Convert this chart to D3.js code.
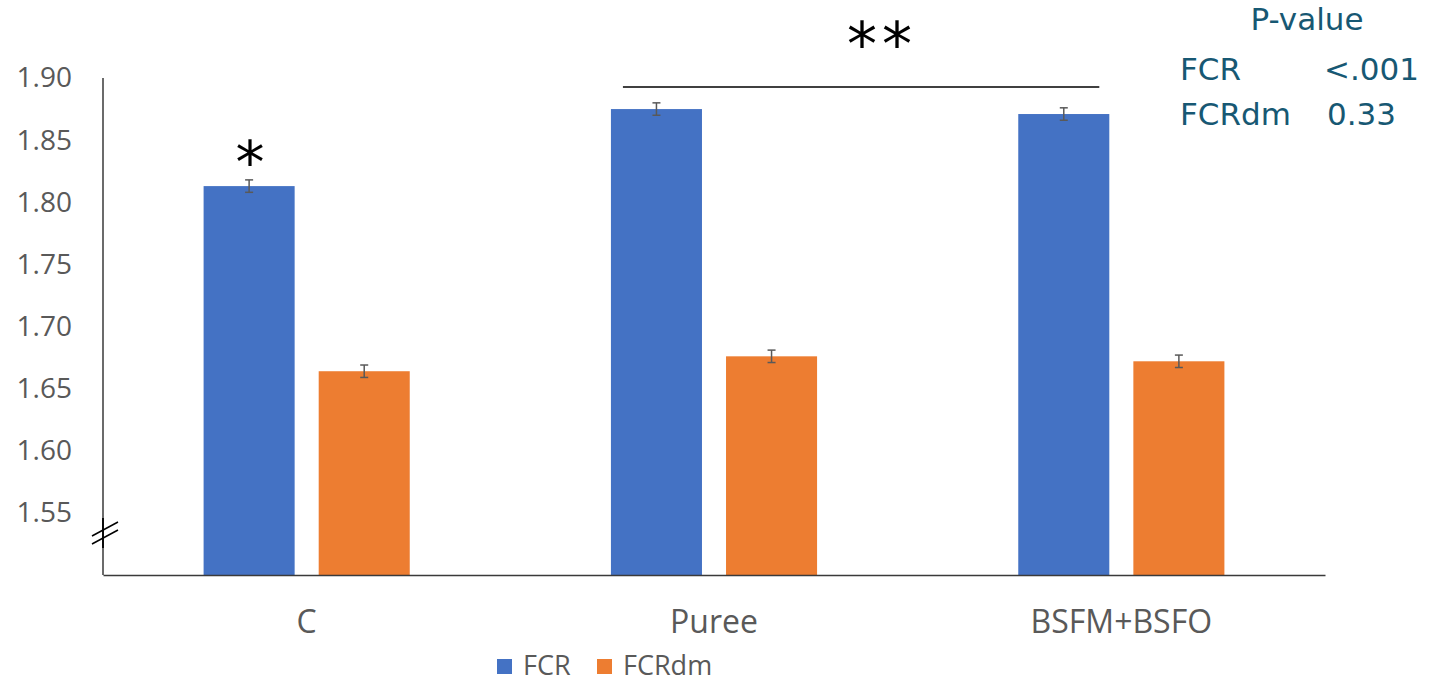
<!DOCTYPE html>
<html>
<head>
<meta charset="utf-8">
<script src="https://cdn.jsdelivr.net/npm/d3@7"></script>
<style>
  html, body { margin: 0; padding: 0; background: #fff; }
  svg { display: block; }
</style>
</head>
<body>
<script>
// Feed conversion ratios per diet, with standard errors
const categories = ["C", "Puree", "BSFM+BSFO"];
const seriesNames = ["FCR", "FCRdm"];
const fcr = [1.813, 1.875, 1.871];
const fcrdm = [1.664, 1.676, 1.672];
const fcrErr = [0.005, 0.005, 0.005];
const fcrdmErr = [0.005, 0.005, 0.005];
const yTicks = [1.55, 1.60, 1.65, 1.70, 1.75, 1.80, 1.85, 1.90];
const pRows = [["FCR", "<.001"], ["FCRdm", "0.33"]];

const W = 1429, H = 684;
const margin = { left: 103, right: 104, top: 78, bottom: 109 };
const colors = { FCR: "#4472C4", FCRdm: "#ED7D31" };
const axisFont = "'Open Sans', 'Noto Sans', sans-serif";

const svg = d3.select("body").append("svg").attr("width", W).attr("height", H);

const x0 = d3.scaleBand().domain(categories)
  .range([margin.left, W - margin.right]).paddingInner(0).paddingOuter(0);
const x1 = d3.scaleBand().domain(seriesNames)
  .range([0, x0.bandwidth()]).paddingInner(0.209).paddingOuter(0.874);
const y = d3.scaleLinear().domain([1.50, 1.90]).range([H - margin.bottom, margin.top]);

const rows = categories.map((c, i) => ({
  cat: c,
  vals: [
    { key: "FCR", v: fcr[i], e: fcrErr[i] },
    { key: "FCRdm", v: fcrdm[i], e: fcrdmErr[i] }
  ]
}));

// Bars
const g = svg.append("g");
const groups = g.selectAll("g.cat").data(rows).join("g")
  .attr("transform", d => `translate(${x0(d.cat)},0)`);
groups.selectAll("rect").data(d => d.vals).join("rect")
  .attr("x", d => x1(d.key))
  .attr("width", x1.bandwidth())
  .attr("y", d => y(d.v))
  .attr("height", d => y(1.50) - y(d.v))
  .attr("fill", d => colors[d.key]);

// Error bars
const eb = groups.selectAll("g.err").data(d => d.vals).join("g")
  .attr("stroke", "#595959").attr("stroke-width", 1.5);
const mid = d => x1(d.key) + x1.bandwidth() / 2;
eb.append("line")
  .attr("x1", mid).attr("x2", mid)
  .attr("y1", d => y(d.v + d.e)).attr("y2", d => y(d.v - d.e));
eb.append("line")
  .attr("x1", d => mid(d) - 4).attr("x2", d => mid(d) + 4)
  .attr("y1", d => y(d.v + d.e)).attr("y2", d => y(d.v + d.e));
eb.append("line")
  .attr("x1", d => mid(d) - 4).attr("x2", d => mid(d) + 4)
  .attr("y1", d => y(d.v - d.e)).attr("y2", d => y(d.v - d.e));

// Y axis
const yAxis = svg.append("g")
  .attr("transform", `translate(${margin.left},0)`)
  .call(d3.axisLeft(y).tickValues(yTicks).tickFormat(d3.format(".2f")).tickSize(0).tickPadding(31));
yAxis.select(".domain").remove();
yAxis.selectAll("text")
  .attr("font-family", axisFont).attr("font-size", 28).attr("fill", "#595959");
svg.append("line")
  .attr("x1", margin.left).attr("x2", margin.left)
  .attr("y1", y(1.90)).attr("y2", y(1.50))
  .attr("stroke", "#3a3a3a").attr("stroke-width", 1.5);

// X axis
const xAxis = svg.append("g")
  .attr("transform", `translate(0,${y(1.50)})`)
  .call(d3.axisBottom(x0).tickSize(0).tickPadding(35));
xAxis.select(".domain").attr("stroke", "#3a3a3a").attr("stroke-width", 1.5);
xAxis.selectAll("text")
  .attr("font-family", axisFont).attr("font-size", 32).attr("fill", "#595959");

// Axis break mark
const bx = margin.left, by = y(1.50) - 42;
svg.append("line").attr("x1", bx).attr("x2", bx).attr("y1", by - 15).attr("y2", by + 15)
  .attr("stroke", "#000").attr("stroke-width", 1.8);
[-4, 4].forEach(o => {
  svg.append("line")
    .attr("x1", bx - 11).attr("y1", by + o + 7)
    .attr("x2", bx + 15).attr("y2", by + o - 7)
    .attr("stroke", "#000").attr("stroke-width", 1.5);
});

// Significance markers
const cx = i => x0(categories[i]) + x1("FCR") + x1.bandwidth() / 2;
svg.append("text").attr("x", cx(0) + 1).attr("y", 183)
  .attr("text-anchor", "middle").attr("font-family", "'DejaVu Sans', sans-serif")
  .attr("font-size", 58).attr("fill", "#000").text("*");
svg.append("line")
  .attr("x1", x0(categories[1]) + x1("FCR") + 12)
  .attr("x2", x0(categories[2]) + x1("FCR") + x1.bandwidth() - 10)
  .attr("y1", 87).attr("y2", 87)
  .attr("stroke", "#000").attr("stroke-width", 1.5);
svg.append("text").attr("x", 882).attr("y", 65)
  .attr("text-anchor", "middle").attr("font-family", "'DejaVu Sans', sans-serif")
  .attr("font-size", 60).attr("letter-spacing", 5).attr("fill", "#000").text("**");

// P-value table
const pColor = "#175873";
const pFont = "'DejaVu Sans', Verdana, sans-serif";
svg.append("text").attr("x", 1307).attr("y", 30).attr("text-anchor", "middle")
  .attr("font-family", pFont).attr("font-size", 31).attr("fill", pColor).text("P-value");
pRows.forEach((r, i) => {
  svg.append("text").attr("x", 1180).attr("y", 80 + i * 45)
    .attr("font-family", pFont).attr("font-size", 31).attr("fill", pColor).text(r[0]);
  svg.append("text").attr("x", i === 0 ? 1324 : 1327).attr("y", 80 + i * 45)
    .attr("font-family", pFont).attr("font-size", 31).attr("fill", pColor).text(r[1]);
});

// Legend
const legend = svg.append("g").attr("transform", "translate(497,659)");
const legX = [0, 100];
seriesNames.forEach((s, i) => {
  legend.append("rect").attr("x", legX[i]).attr("y", 0).attr("width", 15).attr("height", 15)
    .attr("fill", colors[s]);
  legend.append("text").attr("x", legX[i] + 26).attr("y", 16)
    .attr("font-family", axisFont).attr("font-size", 27).attr("fill", "#595959").text(s);
});
</script>
</body>
</html>
